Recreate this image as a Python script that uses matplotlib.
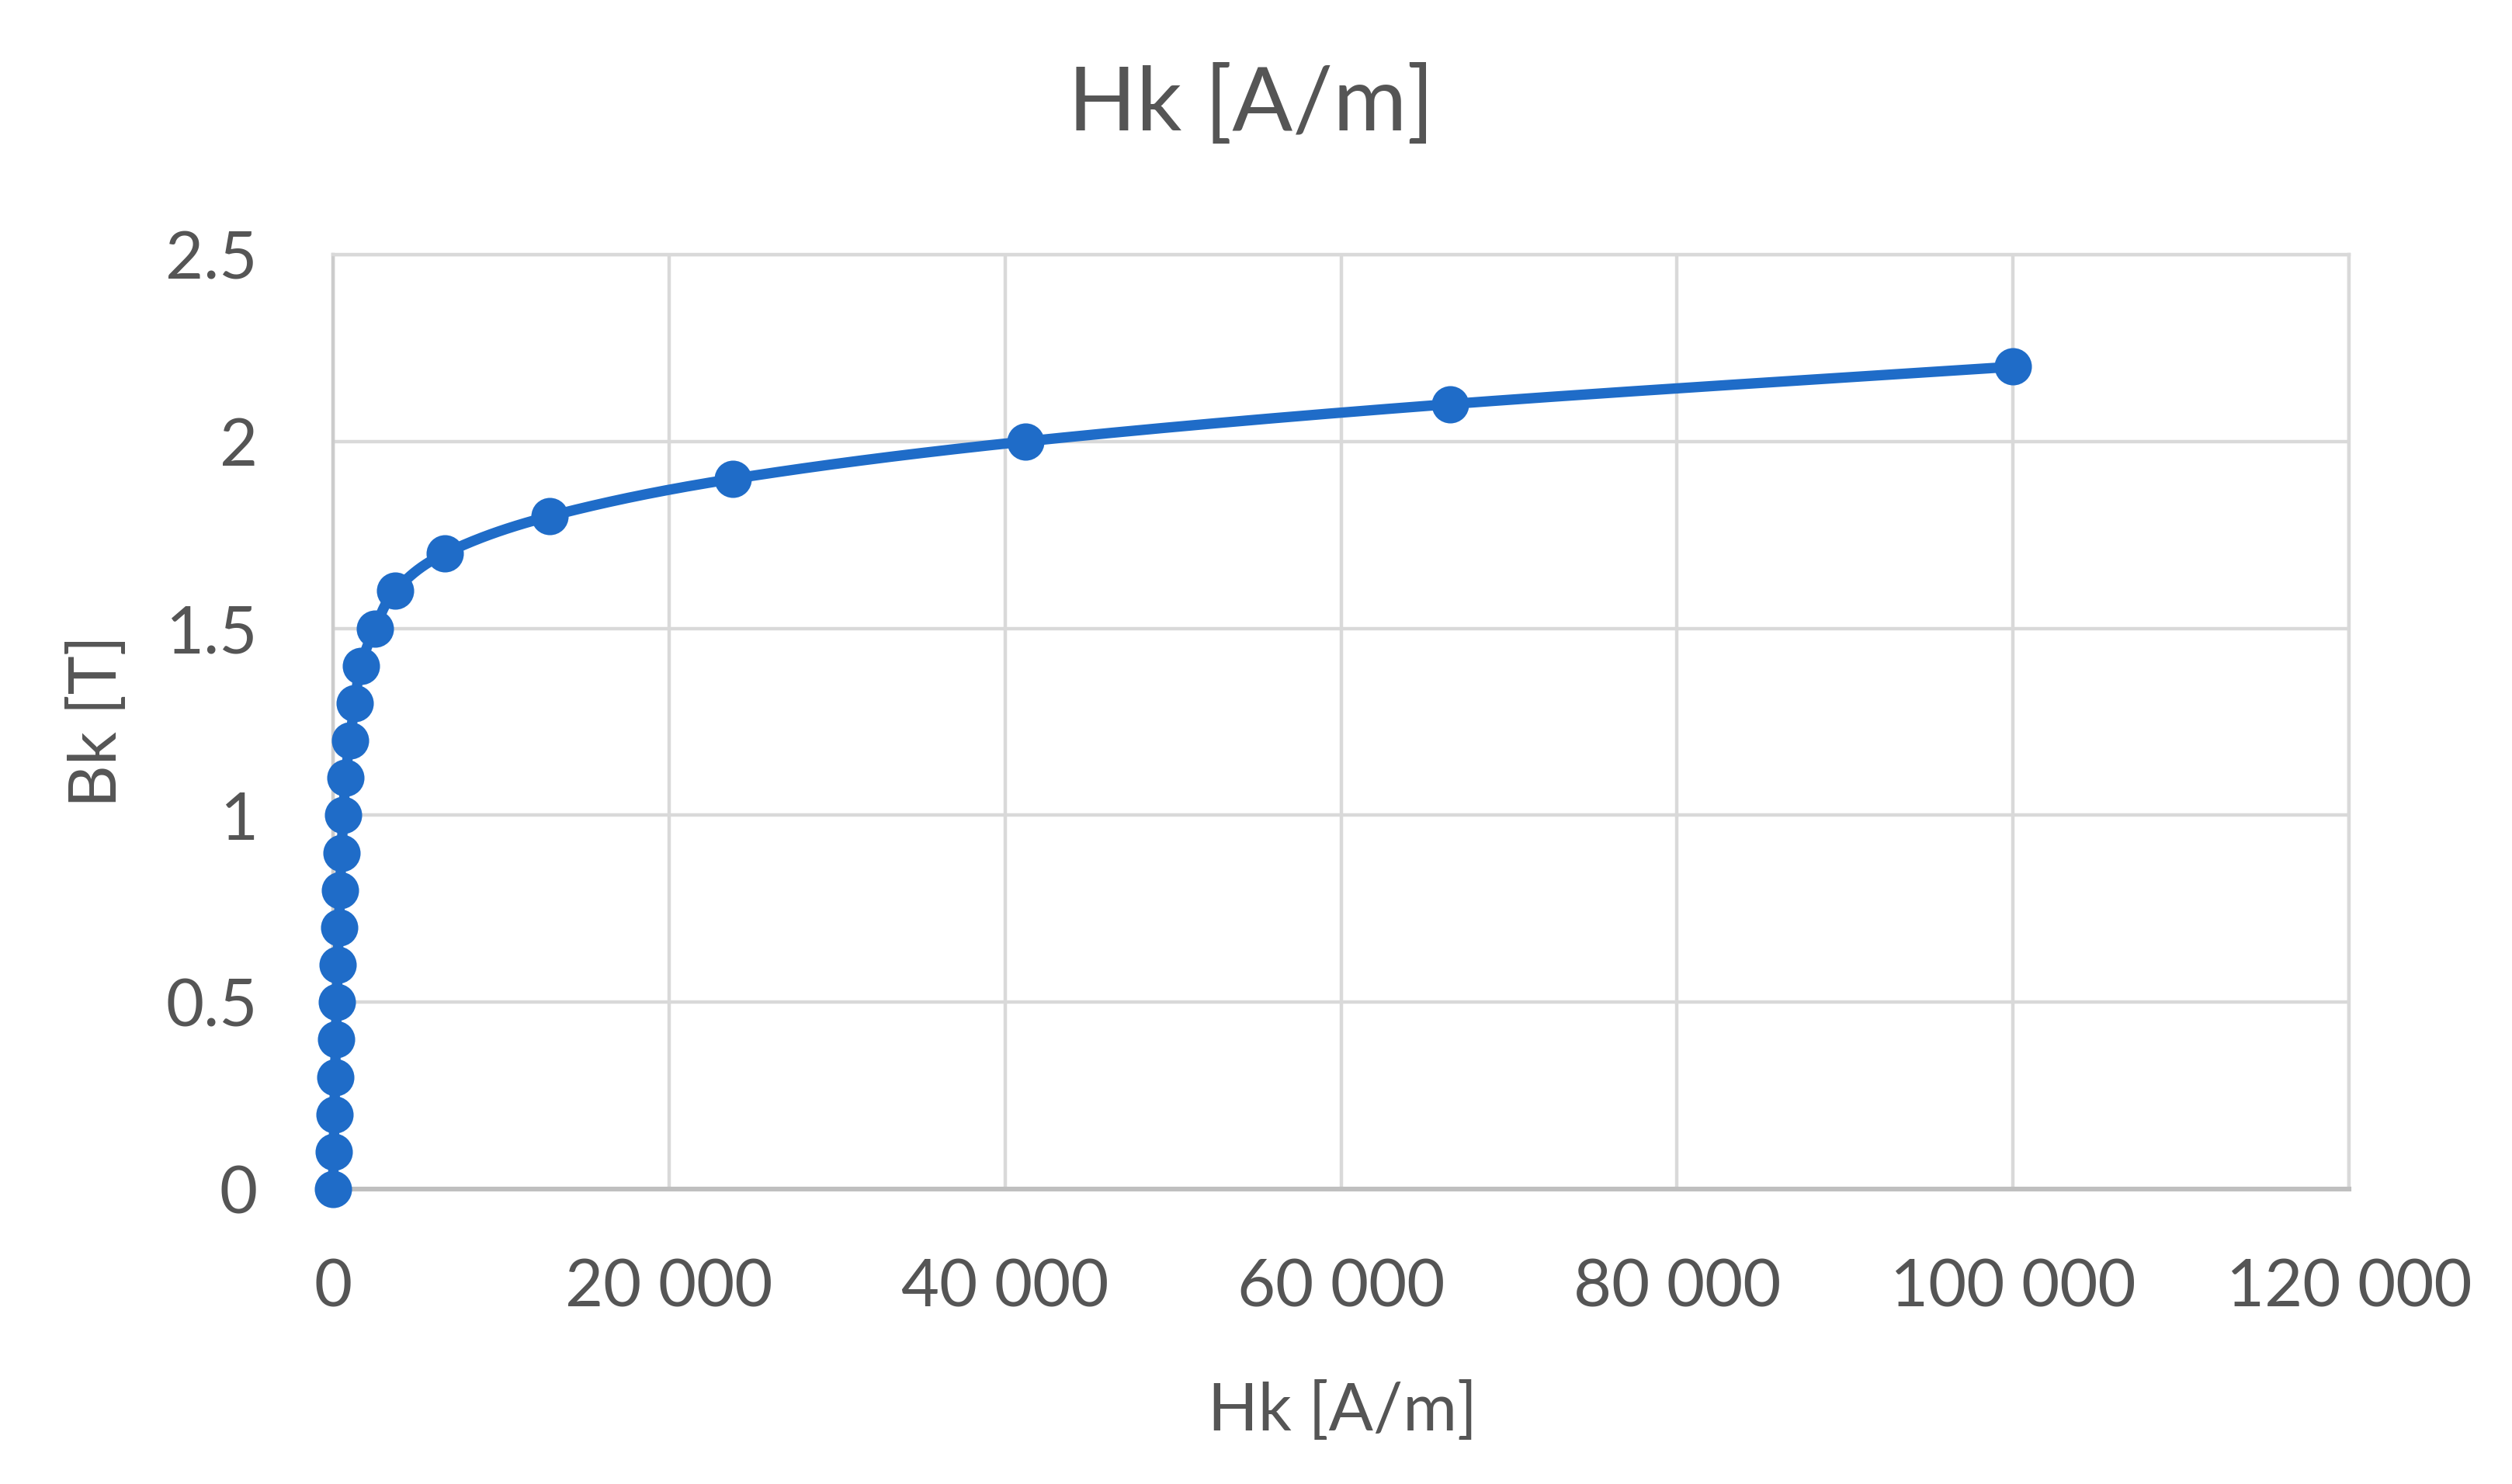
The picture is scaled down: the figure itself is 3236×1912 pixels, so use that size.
import numpy as np
import matplotlib
matplotlib.use("Agg")
import matplotlib.pyplot as plt

# ---- data ----
B_T = [0.0, 0.1, 0.2, 0.3, 0.4, 0.5, 0.6, 0.7, 0.8, 0.9, 1.0, 1.1,
       1.2, 1.3, 1.4, 1.5, 1.6, 1.7, 1.8, 1.9, 2.0, 2.1, 2.2]
H_Am = [0, 40, 80, 120, 170, 220, 270, 350, 420, 500, 620, 740,
        1000, 1300, 1650, 2500, 3700, 6650, 12900, 23800, 41200, 66500, 100000]

x_ticks = [0, 20000, 40000, 60000, 80000, 100000, 120000]
x_tick_labels = ["0", "20 000", "40 000", "60 000", "80 000", "100 000", "120 000"]
y_ticks = [0, 0.5, 1, 1.5, 2, 2.5]
y_tick_labels = ["0", "0.5", "1", "1.5", "2", "2.5"]

title_text = "Hk [A/m]"
x_label = "Hk [A/m]"
y_label = "Bk [T]"

# ---- style ----
plt.rcParams['font.family'] = ['Lato', 'DejaVu Sans']
BLUE = '#1F6CC8'
TEXT = '#555555'
GRID = '#d9d9d9'
AXIS = '#bfbfbf'

W, H = 3236, 1912
DPI = 200
fig = plt.figure(figsize=(W / DPI, H / DPI), dpi=DPI)
fig.patch.set_facecolor('white')

left, right, top, bottom = 429, 3026, 328, 1532
ax = fig.add_axes([left / W, 1 - bottom / H, (right - left) / W, (bottom - top) / H])
ax.set_xlim(x_ticks[0], x_ticks[-1])
ax.set_ylim(y_ticks[0], y_ticks[-1])

ax.set_xticks(x_ticks)
ax.set_xticklabels(x_tick_labels)
ax.set_yticks(y_ticks)
ax.set_yticklabels(y_tick_labels)
ax.tick_params(axis='both', length=0, labelsize=30.5, labelcolor=TEXT)
ax.tick_params(axis='x', pad=32)
ax.tick_params(axis='y', pad=35)

ax.grid(True, color=GRID, lw=1.6, zorder=0)
ax.set_axisbelow(True)
for s in ['top', 'right', 'left']:
    ax.spines[s].set_color(GRID)
    ax.spines[s].set_linewidth(1.6)
ax.spines['left'].set_color('#cccccc')
ax.spines['bottom'].set_color(AXIS)
ax.spines['bottom'].set_linewidth(2.2)


# smoothed line (Excel-like Bezier smoothing computed in display space)
def smooth(pts, n=40):
    P = np.vstack([pts[0], pts, pts[-1]])
    out = []
    t = np.linspace(0, 1, n)[:, None]
    for i in range(1, len(P) - 2):
        p0, p1, p2, p3 = P[i - 1], P[i], P[i + 1], P[i + 2]
        c1 = p1 + (p2 - p0) / 6.0
        c2 = p2 - (p3 - p1) / 6.0
        seg = ((1 - t) ** 3) * p1 + 3 * ((1 - t) ** 2) * t * c1 + 3 * (1 - t) * (t ** 2) * c2 + (t ** 3) * p2
        out.append(seg if i == 1 else seg[1:])
    return np.vstack(out)


disp = ax.transData.transform(np.column_stack([H_Am, B_T]))
curve = ax.transData.inverted().transform(smooth(disp))
ax.plot(curve[:, 0], curve[:, 1], color=BLUE, lw=4.8, solid_capstyle='round',
        solid_joinstyle='round', zorder=3, clip_on=False)
ax.plot(H_Am, B_T, 'o', ms=16.3, color=BLUE, mec=BLUE, zorder=4, clip_on=False)

# titles
fig.text(1612 / W, 1 - 168 / H, title_text, ha='center', va='baseline',
         fontsize=41.5, color=TEXT)
fig.text(1730 / W, 1 - 1843 / H, x_label, ha='center', va='baseline',
         fontsize=30.5, color=TEXT)
fig.text(150 / W, 1 - 929 / H, y_label, ha='center', va='baseline',
         rotation=90, rotation_mode='anchor', fontsize=30.5, color=TEXT)

fig.savefig('out.png', dpi=DPI, facecolor='white')
